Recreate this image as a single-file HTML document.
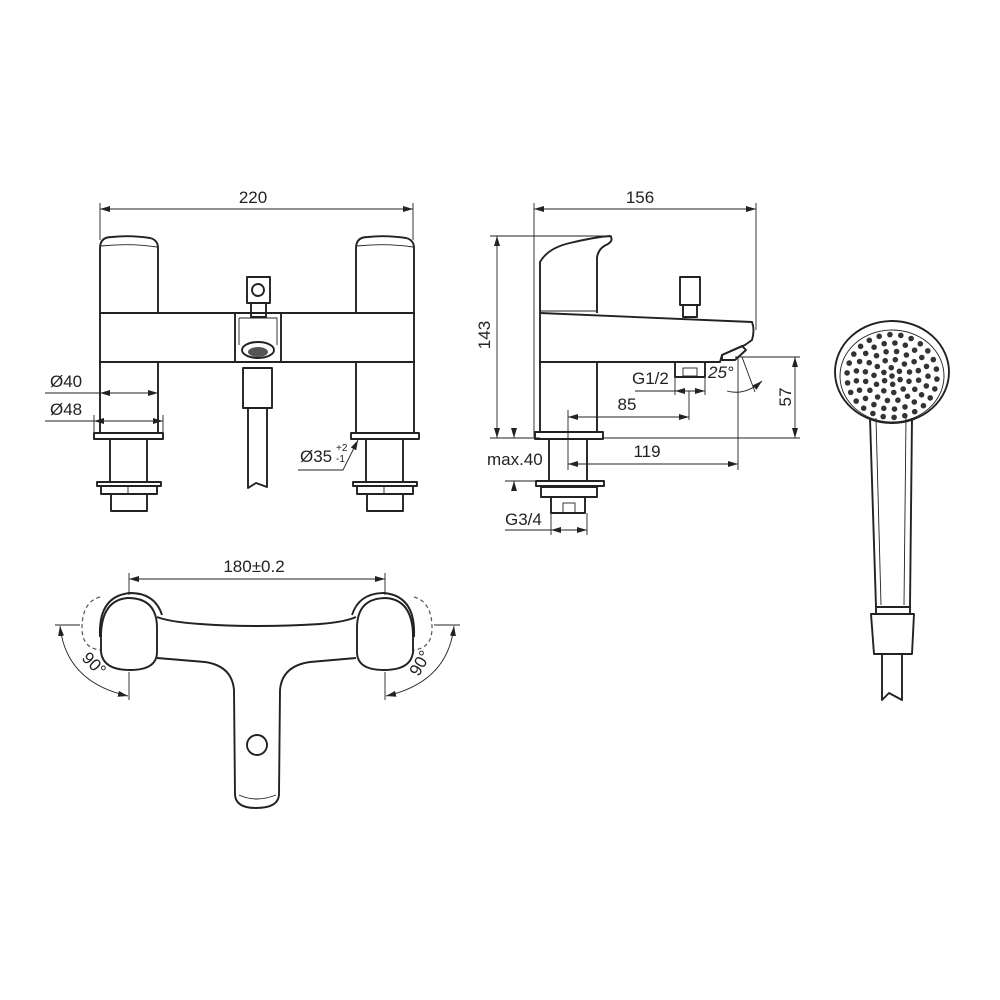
<!DOCTYPE html>
<html><head><meta charset="utf-8"><style>
body{margin:0;background:#fff}
svg{display:block}
text{font-family:"Liberation Sans",sans-serif;font-size:17px;fill:#222}
.l{fill:none;stroke:#222;stroke-width:1.9;stroke-linejoin:round}
.t{fill:none;stroke:#222;stroke-width:0.9}
.d{fill:none;stroke:#555;stroke-width:1.2;stroke-dasharray:4 3}
</style></head><body>
<svg width="1000" height="1000" viewBox="0 0 1000 1000" xmlns="http://www.w3.org/2000/svg">
<defs>
<marker id="a" viewBox="0 0 10 6" refX="10" refY="3" markerWidth="10" markerHeight="6" orient="auto-start-reverse" markerUnits="userSpaceOnUse"><path d="M0,0L10,3L0,6z" fill="#222"/></marker>
</defs>

<!-- FRONT VIEW -->
<line class="t" x1="100" y1="209" x2="413" y2="209" marker-start="url(#a)" marker-end="url(#a)"/>
<line class="t" x1="100" y1="203" x2="100" y2="240"/><line class="t" x1="413" y1="203" x2="413" y2="240"/>
<text x="253" y="203" text-anchor="middle">220</text>
<path class="l" d="M100,313V248Q100,237 112,237Q130,235 150,238Q158,240 158,248V313"/>
<path class="t" d="M101,246Q130,243 157,247"/>
<path class="l" d="M356,313V248Q356,237 368,237Q386,235 406,238Q414,240 414,248V313"/>
<path class="t" d="M357,246Q386,243 413,247"/>
<rect class="l" x="100" y="313" width="314" height="49"/>
<rect class="l" x="235" y="313" width="46" height="49" fill="#fff"/>
<path class="t" d="M239,318H277V345M239,318V345"/>
<rect class="l" x="247" y="277" width="23" height="26"/>
<circle class="l" cx="258" cy="290" r="6"/>
<rect class="l" x="251" y="303" width="15" height="14" fill="#fff"/>
<ellipse class="l" cx="258" cy="350" rx="16" ry="8"/>
<ellipse cx="258" cy="352" rx="10" ry="5" fill="#555"/>
<path class="l" d="M243,368H272V408H243Z"/>
<path class="l" d="M248,408V488L256,483L267,487V408"/>
<rect class="l" x="100" y="362" width="58" height="71"/>
<rect class="l" x="356" y="362" width="58" height="71"/>
<rect class="l" x="94" y="433" width="69" height="6"/>
<rect class="l" x="351" y="433" width="68" height="6"/>
<g id="fit">
<rect class="l" x="110" y="439" width="37" height="43"/>
<rect class="l" x="97" y="482" width="64" height="4"/>
<rect class="l" x="101" y="486" width="56" height="8"/>
<rect class="l" x="111" y="494" width="36" height="17"/>
<line class="t" x1="128" y1="486" x2="128" y2="494"/>
</g>
<use href="#fit" transform="translate(256,0)"/>
<line class="t" x1="45" y1="393" x2="158" y2="393"/>
<line class="t" x1="100" y1="393" x2="158" y2="393" marker-start="url(#a)" marker-end="url(#a)"/>
<text x="50" y="387">Ø40</text>
<line class="t" x1="45" y1="421" x2="163" y2="421"/>
<line class="t" x1="94" y1="421" x2="163" y2="421" marker-start="url(#a)" marker-end="url(#a)"/>
<line class="t" x1="94" y1="415" x2="94" y2="433"/><line class="t" x1="163" y1="415" x2="163" y2="433"/>
<text x="50" y="415">Ø48</text>
<text x="300" y="462">Ø35</text>
<text x="336" y="451" style="font-size:10px">+2</text>
<text x="336" y="462" style="font-size:10px">-1</text>
<path class="t" d="M298,470H343L358,440" marker-end="url(#a)"/>

<!-- SIDE VIEW -->
<line class="t" x1="534" y1="209" x2="756" y2="209" marker-start="url(#a)" marker-end="url(#a)"/>
<line class="t" x1="534" y1="203" x2="534" y2="437"/><line class="t" x1="756" y1="203" x2="756" y2="330"/>
<text x="640" y="203" text-anchor="middle">156</text>
<line class="t" x1="497" y1="236" x2="497" y2="438" marker-start="url(#a)" marker-end="url(#a)"/>
<line class="t" x1="490" y1="236" x2="612" y2="236"/>
<line class="t" x1="490" y1="438" x2="540" y2="438"/>
<text transform="translate(490,335) rotate(-90)" text-anchor="middle">143</text>
<path class="l" d="M540,313V262Q548,248 570,243Q595,237 610,236Q614,240 608,244Q598,248 597,258V313"/>
<line class="t" x1="540" y1="311" x2="597" y2="311"/>
<path class="l" d="M540,313L752,322Q755,330 752,340L745,345L722,355L720,362H540Z"/>
<path class="l" d="M722,355L742,346L746,350L735,360L722,360Z"/>
<rect class="l" x="680" y="277" width="20" height="28"/>
<rect class="l" x="683" y="305" width="14" height="12"/>
<rect class="l" x="675" y="362" width="30" height="15"/>
<rect class="t" x="683" y="368" width="14" height="8"/>
<rect class="l" x="540" y="362" width="57" height="70"/>
<rect class="l" x="535" y="432" width="68" height="7"/>
<rect class="l" x="549" y="439" width="38" height="42"/>
<rect class="l" x="536" y="481" width="68" height="5"/>
<rect class="l" x="541" y="487" width="56" height="10"/>
<rect class="l" x="551" y="497" width="34" height="16"/>
<rect class="t" x="563" y="503" width="12" height="10"/>
<text x="632" y="384">G1/2</text>
<line class="t" x1="635" y1="391" x2="705" y2="391"/>
<line class="t" x1="675" y1="391" x2="705" y2="391" marker-start="url(#a)" marker-end="url(#a)"/>
<line class="t" x1="675" y1="377" x2="675" y2="395"/><line class="t" x1="705" y1="377" x2="705" y2="395"/>
<line class="t" x1="689" y1="391" x2="689" y2="420"/>
<line class="t" x1="568" y1="417" x2="689" y2="417" marker-start="url(#a)" marker-end="url(#a)"/>
<line class="t" x1="568" y1="410" x2="568" y2="470"/>
<text x="627" y="410" text-anchor="middle">85</text>
<line class="t" x1="568" y1="464" x2="738" y2="464" marker-start="url(#a)" marker-end="url(#a)"/>
<line class="t" x1="738" y1="357" x2="738" y2="470"/>
<text x="647" y="457" text-anchor="middle">119</text>
<line class="t" x1="603" y1="438" x2="800" y2="438"/>
<line class="t" x1="735" y1="357" x2="800" y2="357"/>
<line class="t" x1="795" y1="357" x2="795" y2="438" marker-start="url(#a)" marker-end="url(#a)"/>
<text transform="translate(791,397) rotate(-90)" text-anchor="middle">57</text>
<text x="708" y="378" style="font-style:italic">25°</text>
<line class="t" x1="742" y1="357" x2="755" y2="392"/>
<path class="t" d="M727,391Q745,396 762,381" marker-end="url(#a)"/>
<line class="t" x1="514" y1="428" x2="514" y2="438" marker-end="url(#a)"/>
<line class="t" x1="514" y1="490" x2="514" y2="481" marker-end="url(#a)"/>
<line class="t" x1="505" y1="481" x2="540" y2="481"/>
<text x="487" y="465">max.40</text>
<text x="505" y="525">G3/4</text>
<line class="t" x1="505" y1="530" x2="587" y2="530"/>
<line class="t" x1="551" y1="530" x2="587" y2="530" marker-start="url(#a)" marker-end="url(#a)"/>
<line class="t" x1="551" y1="513" x2="551" y2="535"/><line class="t" x1="587" y1="513" x2="587" y2="535"/>

<!-- TOP VIEW -->
<line class="t" x1="129" y1="579" x2="385" y2="579" marker-start="url(#a)" marker-end="url(#a)"/>
<line class="t" x1="129" y1="573" x2="129" y2="595"/><line class="t" x1="385" y1="573" x2="385" y2="595"/>
<text x="254" y="572" text-anchor="middle">180±0.2</text>
<path class="l" d="M157,617Q170,622 200,624Q257,628 320,624Q345,622 356,617"/>
<path class="l" d="M157,658L205,662Q232,666 234,690L235,795Q236,808 256,808Q278,808 279,795L280,690Q282,666 310,662L356,658"/>
<path class="t" d="M239,795Q256,803 276,795"/>
<circle class="l" cx="257" cy="745" r="10"/>
<path class="l" d="M101,640Q100,600 128,598Q157,598 157,628V652Q157,670 130,670Q103,670 101,652Z"/>
<path class="l" d="M100,637Q98,596 130,593Q155,593 162,615"/>
<path class="l" d="M413,640Q414,600 386,598Q357,598 357,628V652Q357,670 384,670Q411,670 413,652Z"/>
<path class="l" d="M414,637Q416,596 384,593Q359,593 352,615"/>
<path class="d" d="M100,597Q82,602 82,628Q82,648 100,650"/>
<path class="d" d="M414,597Q432,602 432,628Q432,648 414,650"/>
<line class="t" x1="55" y1="625" x2="80" y2="625"/>
<line class="t" x1="434" y1="625" x2="460" y2="625"/>
<line class="t" x1="129" y1="672" x2="129" y2="700"/>
<line class="t" x1="385" y1="672" x2="385" y2="700"/>
<path class="t" d="M60,626Q66,682 128,696" marker-start="url(#a)" marker-end="url(#a)"/>
<path class="t" d="M454,626Q448,682 386,696" marker-start="url(#a)" marker-end="url(#a)"/>
<text transform="translate(90,668) rotate(45)" text-anchor="middle">90°</text>
<text transform="translate(425,666) rotate(-60)" text-anchor="middle">90°</text>

<!-- SHOWER HEAD -->
<path class="l" d="M870,418L876,607H910L912,418"/>
<path class="t" d="M876,418L881,605M906,418L904,605"/>
<ellipse class="l" cx="892" cy="372" rx="57" ry="51" fill="#fff"/>
<ellipse class="t" cx="892" cy="376" rx="52" ry="46"/>
<g id="dots" fill="#333"></g>
<rect class="l" x="876" y="607" width="34" height="7"/>
<path class="l" d="M871,614H914L912,654H874Z"/>
<path class="l" d="M882,654V700L889,693L902,700V654"/>
</svg>
<script>
var g=document.getElementById('dots'),s='';
var rings=[[0,1],[9,6],[18,11],[27,16],[36,21],[45,26]];
rings.forEach(function(r){for(var i=0;i<r[1];i++){var a=i*2*Math.PI/r[1]+r[0]*0.05;var x=892+r[0]*Math.cos(a),y=376+r[0]*0.92*Math.sin(a);s+='<circle cx="'+x.toFixed(1)+'" cy="'+y.toFixed(1)+'" r="2.8"/>';}});
g.innerHTML=s;
</script>
</body></html>
